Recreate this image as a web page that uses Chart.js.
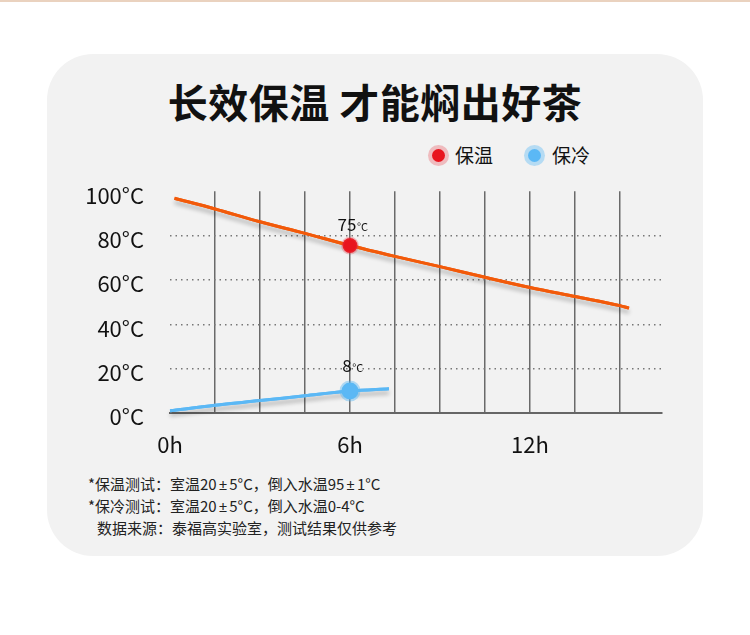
<!DOCTYPE html>
<html>
<head>
<meta charset="utf-8">
<script src="https://cdn.jsdelivr.net/npm/chart.js@4.4.1/dist/chart.umd.min.js"></script>
<style>
  html, body { margin: 0; padding: 0; background: #fff; }
  body { width: 750px; height: 635px; position: relative; overflow: hidden;
         font-family: "Noto Sans CJK SC", "Noto Sans", sans-serif; color: #111; }
  .topline { position: absolute; left: 0; top: 0; width: 750px; height: 2px; background: #ead2bf; }
  .card { position: absolute; left: 47px; top: 54px; width: 656px; height: 502px;
          background: #f2f2f2; border-radius: 46px; }
  .title { position: absolute; left: 0; width: 750px; top: 76px; text-align: center;
           font-size: 40px; font-weight: 700; line-height: 50px; letter-spacing: 0.5px; }
  .legend { position: absolute; top: 144px; height: 24px; font-size: 19px; line-height: 24px; }
  .legend .dot { position: absolute; top: 5px; left: 0; width: 13px; height: 13px; border-radius: 50%; }
  .legend span { position: absolute; top: -1px; white-space: nowrap; }
  .wrap { position: absolute; left: 40px; top: 152px; width: 640px; height: 310px; }
  .notes { position: absolute; left: 88px; top: 473px; font-size: 15px; line-height: 22px; color: #222; }
  .notes div { white-space: nowrap; }
  .pm { font-family: "Noto Sans", sans-serif; margin: 0 2px; }
</style>
</head>
<body>
<div class="topline"></div>
<div class="card"></div>
<div class="title">长效保温 才能焖出好茶</div>
<div class="legend" style="left:432px"><div class="dot" style="background:#e8141e;box-shadow:0 0 0 4px rgba(232,60,70,0.3)"></div><span style="left:23px">保温</span></div>
<div class="legend" style="left:528px"><div class="dot" style="background:#5bb8f5;box-shadow:0 0 0 4px rgba(91,184,245,0.4)"></div><span style="left:24px">保冷</span></div>
<div class="wrap"><canvas id="c"></canvas></div>
<div class="notes">
  <div>*保温测试：室温20<span class="pm">±</span>5°C，倒入水温95<span class="pm">±</span>1°C</div>
  <div>*保冷测试：室温20<span class="pm">±</span>5°C，倒入水温0-4°C</div>
  <div style="padding-left:9px">数据来源：泰福高实验室，测试结果仅供参考</div>
</div>
<script>
// 保温 curve (hours, °C)
const hotHours = [0.15, 1.5, 3, 4.5, 6, 7.5, 9, 10.5, 12, 13.5, 15, 15.3];
const hotTemps = [96.8, 92, 86.2, 81, 75.5, 70.6, 66, 61.2, 56.6, 52.5, 48.4, 47.3];

// 保冷 curve
const coldHours = [0, 1.5, 3, 4.5, 6, 7.3];
const coldTemps = [1, 3.5, 5.6, 7.8, 9.9, 10.9];

// highlighted points + their labels
const hotMarkIdx = 4, hotMarkText = '75';
const coldMarkIdx = 4, coldMarkText = '8';

const xLabels = [0, 6, 12];
const yLabels = [0, 20, 40, 60, 80, 100];

const FONT = '"Noto Sans CJK SC", "Noto Sans", sans-serif';

function toPoints(xs, ys) {
  return xs.map((x, i) => ({ x, y: ys[i] }));
}

// soft grey shadow under the curves
const lineShadow = {
  id: 'lineShadow',
  beforeDatasetDraw(chart, args) {
    const ctx = chart.ctx;
    ctx.save();
    ctx.shadowColor = 'rgba(0,0,0,0.28)';
    ctx.shadowBlur = 4;
    ctx.shadowOffsetY = 4;
    args.meta.dataset.draw(ctx, chart.chartArea);
    ctx.restore();
  }
};

// "75°C" style labels over the marked points
const markLabels = {
  id: 'markLabels',
  afterDatasetsDraw(chart) {
    const ctx = chart.ctx;
    chart.data.datasets.forEach((ds, di) => {
      if (ds.markIndex == null) return;
      const pt = chart.getDatasetMeta(di).data[ds.markIndex];
      ctx.save();
      ctx.fillStyle = '#111';
      ctx.textBaseline = 'middle';
      ctx.font = '17px ' + FONT;
      const wNum = ctx.measureText(ds.markText).width;
      const cx = pt.x - 3;
      const cy = pt.y - ds.markGap;
      ctx.textAlign = 'center';
      ctx.fillText(ds.markText, cx, cy);
      ctx.font = '11px ' + FONT;
      ctx.textAlign = 'left';
      ctx.fillText('°C', cx + wNum / 2 + 0.5, cy + 2);
      ctx.restore();
    });
  }
};

new Chart(document.getElementById('c'), {
  type: 'line',
  data: {
    datasets: [
      {
        label: '保温',
        data: toPoints(hotHours, hotTemps),
        borderColor: '#f25a0a',
        borderWidth: 3,
        cubicInterpolationMode: 'monotone',
        pointRadius: c => c.dataIndex === hotMarkIdx ? 7.5 : 0,
        pointBorderWidth: 3,
        pointBackgroundColor: '#e8141e',
        pointBorderColor: 'rgba(232,60,70,0.3)',
        markIndex: hotMarkIdx,
        markText: hotMarkText,
        markGap: 21,
      },
      {
        label: '保冷',
        data: toPoints(coldHours, coldTemps),
        borderColor: '#5bb8f5',
        borderWidth: 3,
        cubicInterpolationMode: 'monotone',
        pointRadius: c => c.dataIndex === coldMarkIdx ? 8.5 : 0,
        pointBorderWidth: 4,
        pointBackgroundColor: '#5bb8f5',
        pointBorderColor: 'rgba(91,184,245,0.45)',
        markIndex: coldMarkIdx,
        markText: coldMarkText,
        markGap: 25,
      }
    ]
  },
  options: {
    responsive: true,
    maintainAspectRatio: false,
    animation: false,
    events: [],
    layout: { padding: { top: 0, right: 18, bottom: 0, left: 0 } },
    plugins: { legend: { display: false }, tooltip: { enabled: false } },
    scales: {
      x: {
        type: 'linear',
        min: 0,
        max: 16.4,
        afterFit: s => { s.height = 49; },
        border: { display: true, color: '#666', width: 2 },
        grid: {
          drawTicks: false,
          color: c => (c.tick && c.tick.value > 0) ? '#6a6a6a' : 'transparent',
          lineWidth: 1.5,
        },
        ticks: {
          stepSize: 1.5,
          includeBounds: false,
          autoSkip: false,
          maxRotation: 0,
          padding: 18,
          color: '#111',
          font: { family: FONT, size: 22 },
          callback: v => xLabels.includes(v) ? v + 'h' : '',
        }
      },
      y: {
        min: 0,
        max: 100,
        afterFit: s => { s.width = 130; },
        border: { display: false, dash: [1.5, 4] },
        grid: {
          drawTicks: false,
          color: c => (c.tick && c.tick.value > 0 && c.tick.value < 100) ? '#777' : 'transparent',
          lineWidth: 1.5,
        },
        ticks: {
          stepSize: 20,
          padding: 26,
          labelOffset: 4,
          color: '#111',
          font: { family: FONT, size: 22 },
          callback: v => yLabels.includes(v) ? v + '°C' : '',
        }
      }
    }
  },
  plugins: [lineShadow, markLabels]
});
</script>
</body>
</html>
